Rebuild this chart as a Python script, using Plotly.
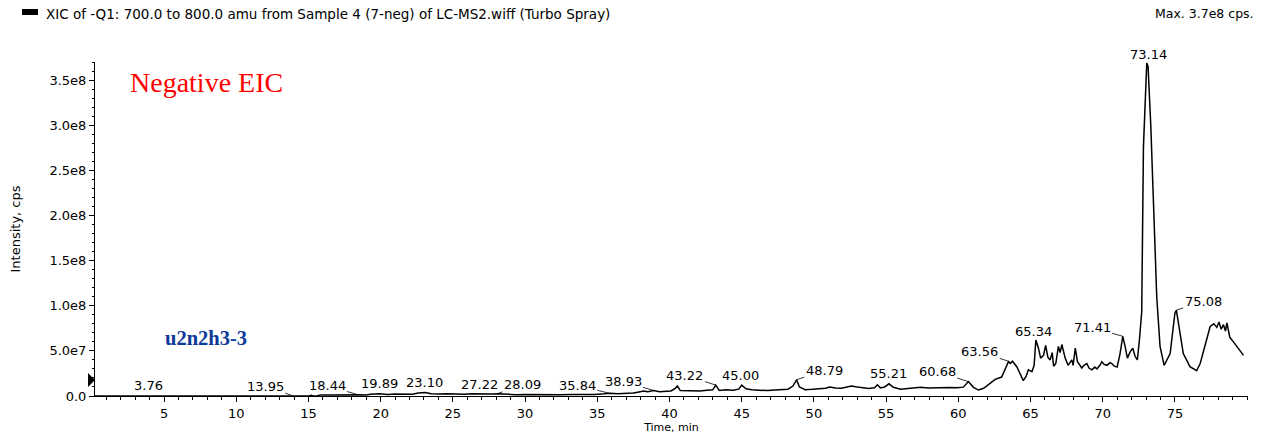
import numpy as np
import plotly.graph_objects as go

# ---------------- data ----------------
time_min = [
    0.2, 3.3, 3.4, 3.5, 3.6, 3.7, 14.8, 14.9, 15.0, 15.2, 15.3, 15.6,
    15.8, 16.5, 17.2, 18.0, 18.4, 19.0, 19.3, 19.9, 20.5, 21.0, 21.6, 22.2,
    22.6, 23.1, 23.5, 24.0, 24.6, 25.2, 25.8, 26.3, 26.8, 27.2, 27.7, 28.1,
    28.6, 29.3, 30.0, 30.8, 31.6, 32.4, 33.2, 34.0, 34.8, 35.5, 35.9, 36.4,
    37.0, 37.5, 37.9, 38.2, 38.5, 38.9, 39.3, 39.7, 40.1, 40.4, 40.55, 40.75,
    41.2, 41.7, 42.1, 42.6, 43.0, 43.2, 43.45, 43.9, 44.4, 44.8, 45.0, 45.3,
    45.7, 46.2, 46.8, 47.3, 47.8, 48.2, 48.55, 48.8, 49.0, 49.4, 49.9, 50.4,
    50.8, 51.1, 51.5, 51.9, 52.3, 52.6, 53.0, 53.4, 53.8, 54.2, 54.4, 54.6,
    54.9, 55.2, 55.5, 56.0, 56.5, 56.9, 57.4, 57.9, 58.4, 58.9, 59.4, 59.9,
    60.35, 60.7, 61.05, 61.4, 61.75, 62.2, 62.55, 63.0, 63.24, 63.47, 63.6, 63.75,
    64.05, 64.28, 64.5, 64.7, 64.85, 65.1, 65.25, 65.37, 65.55, 65.7, 65.9, 66.05,
    66.2, 66.36, 66.5, 66.6, 66.75, 66.93, 67.05, 67.17, 67.3, 67.4, 67.6, 67.75,
    67.86, 67.95, 68.1, 68.25, 68.4, 68.55, 68.7, 68.9, 69.05, 69.25, 69.45, 69.6,
    69.8, 69.94, 70.1, 70.3, 70.5, 70.63, 70.8, 71.0, 71.2, 71.39, 71.55, 71.71,
    71.9, 72.08, 72.24, 72.4, 72.54, 72.7, 72.82, 72.94, 73.05, 73.14, 73.2, 73.33,
    73.5, 73.74, 73.97, 74.25, 74.67, 75.0, 75.1, 75.3, 75.58, 76.04, 76.5, 76.75,
    77.1, 77.44, 77.7, 77.9, 78.05, 78.2, 78.36, 78.5, 78.6, 78.8, 79.05, 79.3,
    79.55, 79.75,
]
intensity_cps = [
    0, 0, 6e5, 0, 7e5, 0, 0, 8e5, 0, 9e5, 0, 0,
    1.2e6, 1.0e6, 1.3e6, 1.1e6, 1.4e6, 1.2e6, 2.0e6, 2.4e6, 1.8e6, 2.2e6, 1.7e6, 2.0e6,
    3.2e6, 3.8e6, 2.6e6, 2.1e6, 2.6e6, 2.2e6, 2.0e6, 2.5e6, 2.2e6, 2.6e6, 2.1e6, 2.6e6,
    1.8e6, 1.5e6, 1.7e6, 1.4e6, 1.6e6, 1.5e6, 1.6e6, 1.4e6, 1.7e6, 2.4e6, 3.0e6, 2.5e6,
    2.6e6, 3.2e6, 4.5e6, 5.5e6, 4.8e6, 6.0e6, 4.6e6, 5.2e6, 5.6e6, 8.5e6, 1.1e7, 6.0e6,
    5.8e6, 6.2e6, 5.6e6, 6.3e6, 6.8e6, 1.2e7, 6.2e6, 6.8e6, 6.4e6, 7.6e6, 1.2e7, 8.0e6,
    6.8e6, 6.4e6, 6.0e6, 6.6e6, 7.0e6, 7.6e6, 1.1e7, 1.8e7, 1.0e7, 7.0e6, 7.4e6, 8.0e6,
    8.6e6, 1.0e7, 8.8e6, 8.6e6, 9.8e6, 1.1e7, 1.0e7, 8.8e6, 8.4e6, 9.2e6, 1.25e7, 9.0e6,
    1.0e7, 1.35e7, 9.6e6, 7.6e6, 8.4e6, 8.8e6, 9.6e6, 8.8e6, 9.2e6, 9.0e6, 9.4e6, 9.2e6,
    9.8e6, 1.6e7, 9.6e6, 6.6e6, 8.5e6, 1.4e7, 1.85e7, 2.1e7, 2.9e7, 3.8e7, 3.6e7, 3.85e7,
    3.25e7, 2.35e7, 1.7e7, 2.2e7, 2.9e7, 2.7e7, 3.4e7, 6.2e7, 5.3e7, 4.2e7, 4.5e7, 5.6e7,
    4.3e7, 4.0e7, 4.8e7, 3.3e7, 3.6e7, 5.5e7, 4.8e7, 5.7e7, 4.6e7, 4.2e7, 3.4e7, 3.7e7,
    4.0e7, 3.4e7, 5.3e7, 3.8e7, 3.5e7, 3.1e7, 3.4e7, 3.6e7, 3.1e7, 2.9e7, 3.2e7, 3.0e7,
    3.4e7, 3.8e7, 3.5e7, 3.4e7, 3.7e7, 3.6e7, 3.3e7, 3.2e7, 4.7e7, 6.6e7, 5.5e7, 4.2e7,
    4.9e7, 5.3e7, 4.4e7, 4.0e7, 6.2e7, 9.3e7, 2.76e8, 3.32e8, 3.69e8, 3.65e8, 3.37e8, 2.99e8,
    2.21e8, 1.1e8, 5.5e7, 3.4e7, 4.7e7, 9.2e7, 9.5e7, 7.3e7, 4.7e7, 3.25e7, 2.8e7, 3.6e7,
    5.85e7, 7.7e7, 8.0e7, 7.6e7, 8.2e7, 7.4e7, 7.9e7, 7.2e7, 8.1e7, 6.5e7, 6.0e7, 5.5e7,
    5.0e7, 4.5e7,
]

peak_labels = ["3.76", "13.95", "18.44", "19.89", "23.10", "27.22", "28.09",
               "35.84", "38.93", "43.22", "45.00", "48.79", "55.21", "60.68",
               "63.56", "65.34", "71.41", "73.14", "75.08"]

x_tick_values = [5, 10, 15, 20, 25, 30, 35, 40, 45, 50, 55, 60, 65, 70, 75]
y_tick_values = [0, 5e7, 1e8, 1.5e8, 2e8, 2.5e8, 3e8, 3.5e8]
y_tick_labels = ["0.0", "5.0e7", "1.0e8", "1.5e8", "2.0e8", "2.5e8", "3.0e8", "3.5e8"]

header_left = "XIC of -Q1: 700.0 to 800.0 amu from Sample 4 (7-neg) of LC-MS2.wiff (Turbo Spray)"
header_right = "Max. 3.7e8 cps."
note_mode = "Negative EIC"
note_sample = "u2n2h3-3"

# ---------------- styles / layout ----------------
FONT = "DejaVu Sans"
# label -> (kind, dx, dy) in pixels; 'a' = leader line, 't' = text straight above
label_style = {
    "3.76": ("t", 2, 11), "13.95": ("a", -28, -10), "18.44": ("a", -31, -9),
    "19.89": ("t", 0, 10), "23.10": ("t", -1, 10), "27.22": ("t", -5, 9),
    "28.09": ("a", 25, -9), "35.84": ("a", -32, -8), "38.93": ("a", -31, -9),
    "43.22": ("a", -31, -10), "45.00": ("t", -1, 10), "48.79": ("a", 28, -9),
    "55.21": ("t", -1, 10), "60.68": ("a", -31, -10), "63.56": ("a", -30, -10),
    "65.34": ("t", -2, 9), "71.41": ("a", -31, -9), "73.14": ("t", 0, 8),
    "75.08": ("a", 27, -9),
}

Y_TOP = 3.7e8
PLOT_W = 1264 - 95 - 16
PLOT_H = 438 - 62 - 42

t_arr = np.array(time_min)
i_arr = np.array(intensity_cps)

fig = go.Figure()
fig.add_trace(go.Scatter(x=time_min, y=intensity_cps, mode="lines",
                         line=dict(color="black", width=1.5), hoverinfo="x+y",
                         showlegend=False))

annotations = []
for lab in peak_labels:
    t = float(lab)
    win = np.abs(t_arr - t) <= 0.12
    y = float(i_arr[win].max()) if win.any() else float(i_arr[np.argmin(np.abs(t_arr - t))])
    y = min(y, Y_TOP)
    kind, dx, dy = label_style[lab]
    if kind == "a":
        annotations.append(dict(x=t, y=y, xref="x", yref="y", text=lab, showarrow=True,
                                arrowhead=0, arrowwidth=0.8, arrowcolor="black",
                                ax=dx, ay=dy, standoff=0, startstandoff=0,
                                font=dict(family=FONT, size=13, color="black")))
    else:
        annotations.append(dict(x=t, y=y, xref="x", yref="y", text=lab, showarrow=False,
                                xshift=dx, yshift=dy, yanchor="middle",
                                font=dict(family=FONT, size=13, color="black")))

header_y = 1 + (62 - 14) / PLOT_H
annotations += [
    dict(x=-51 / PLOT_W, y=header_y, xref="paper", yref="paper", text=header_left,
         showarrow=False, xanchor="left", yanchor="middle",
         font=dict(family=FONT, size=13.5, color="black")),
    dict(x=1 + 8 / PLOT_W, y=header_y, xref="paper", yref="paper", text=header_right,
         showarrow=False, xanchor="right", yanchor="middle",
         font=dict(family=FONT, size=12.5, color="black")),
    dict(x=0.0286, y=0.94, xref="paper", yref="paper", text=note_mode, showarrow=False,
         xanchor="left", yanchor="middle",
         font=dict(family="Liberation Serif", size=28, color="#ff0000")),
    dict(x=0.059, y=0.174, xref="paper", yref="paper", text="<b>" + note_sample + "</b>",
         showarrow=False, xanchor="left", yanchor="middle",
         font=dict(family="Liberation Serif", size=20.5, color="#0d3a9a")),
]

fig.update_layout(
    width=1264, height=438,
    margin=dict(l=95, r=16, t=62, b=42),
    paper_bgcolor="white", plot_bgcolor="white",
    annotations=annotations,
    shapes=[
        dict(type="rect", xref="paper", yref="paper", x0=-73 / PLOT_W, x1=-57 / PLOT_W,
             y0=1 + (62 - 15) / PLOT_H, y1=1 + (62 - 9) / PLOT_H,
             fillcolor="black", line=dict(width=0)),
        dict(type="path", xref="paper", yref="y",
             path=f"M {-7/PLOT_W} 1.0e7 L 0 1.77e7 L {-7/PLOT_W} 2.55e7 Z",
             fillcolor="black", line=dict(width=0)),
    ],
    xaxis=dict(range=[0.22, 80.06], tickvals=x_tick_values, ticks="outside", ticklen=5,
               tickcolor="black", showline=True, linecolor="black", linewidth=1,
               showgrid=False, zeroline=False, automargin=False,
               minor=dict(dtick=1, ticks="outside", ticklen=3, tickcolor="black", showgrid=False),
               tickfont=dict(family=FONT, size=13, color="black"),
               title=dict(text="Time, min", font=dict(family=FONT, size=11, color="black"),
                          standoff=2)),
    yaxis=dict(range=[0, Y_TOP], tickvals=y_tick_values, ticktext=y_tick_labels,
               ticks="outside", ticklen=5, tickcolor="black", showline=True,
               linecolor="black", linewidth=1, showgrid=False, zeroline=False,
               automargin=False,
               minor=dict(dtick=1e7, ticks="outside", ticklen=2, tickcolor="black", showgrid=False),
               tickfont=dict(family=FONT, size=13, color="black"),
               title=dict(text="Intensity, cps", font=dict(family=FONT, size=13, color="black"),
                          standoff=25)),
)

fig.write_html("out.html", config={"displayModeBar": False},
               post_script="document.body.style.margin='0px';")
